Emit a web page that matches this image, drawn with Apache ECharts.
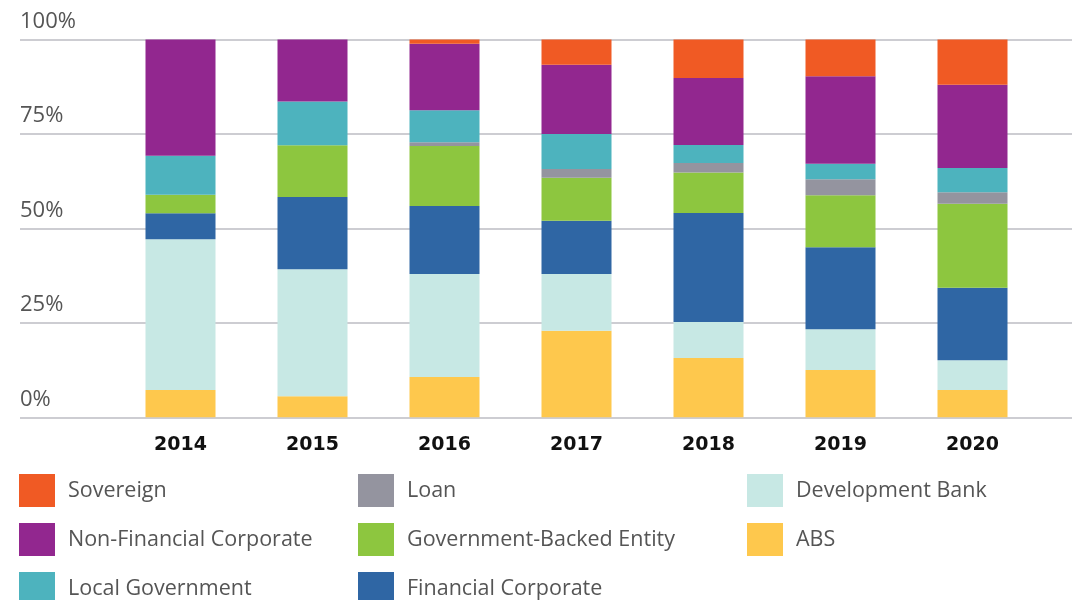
<!DOCTYPE html>
<html>
<head>
<meta charset="utf-8">
<script src="https://cdn.jsdelivr.net/npm/echarts@6/dist/echarts.min.js"></script>
<style>
  html, body { margin: 0; padding: 0; background: #fff; }
  #chart { width: 1081px; height: 600px; }
</style>
</head>
<body>
<div id="chart"></div>
<script>
// years on the x axis
var years = ['2014', '2015', '2016', '2017', '2018', '2019', '2020'];
var yTicks = [0, 25, 50, 75, 100];

// share of issuance by type, % (bottom of the stack first)
var abs = [7.2, 5.6, 10.7, 22.9, 15.7, 12.5, 7.2];
var developmentBank = [39.9, 33.6, 27.2, 15.0, 9.5, 10.8, 7.9];
var financialCorporate = [6.9, 19.1, 18.0, 14.1, 28.9, 21.7, 19.2];
var govBackedEntity = [4.9, 13.7, 15.9, 11.4, 10.7, 13.8, 22.2];
var loan = [0, 0, 1.0, 2.3, 2.5, 4.2, 3.1];
var localGovernment = [10.3, 11.6, 8.5, 9.3, 4.8, 4.1, 6.4];
var nonFinancialCorporate = [30.8, 16.4, 17.6, 18.3, 17.7, 23.2, 22.0];
var sovereign = [0, 0, 1.1, 6.7, 10.2, 9.7, 12.0];

var chart = echarts.init(document.getElementById('chart'));

function bar(name, data, color) {
  return {
    name: name,
    type: 'bar',
    stack: 'total',
    xAxisIndex: 1,
    yAxisIndex: 1,
    barWidth: 70,
    data: data,
    itemStyle: { color: color },
  };
}

var legendText = {
  fontFamily: 'Open Sans',
  fontSize: 21.5,
  color: '#555',
  padding: [0, 0, 0, 8],
};

function legendCol(left, names) {
  return {
    orient: 'vertical',
    left: left,
    top: 474,
    height: 200, // keep all rows in one column, last one runs off the bottom
    padding: 0,
    itemWidth: 36,
    itemHeight: 33,
    itemGap: 16,
    icon: 'rect',
    selectedMode: false,
    textStyle: legendText,
    data: names,
  };
}

var option = {
  animation: false,
  grid: [
    // full-width grid, only for the gridlines and % labels
    { left: 20, right: 9, top: 39.5, bottom: 182.7 },
    // bars
    { left: 114.5, right: 42.5, top: 39.5, bottom: 182.7 },
  ],
  xAxis: [
    { gridIndex: 0, type: 'value', show: false, min: 0, max: 1 },
    {
      gridIndex: 1,
      type: 'category',
      data: years,
      axisLine: { show: false },
      axisTick: { show: false },
      axisLabel: {
        margin: 18,
        fontFamily: 'DejaVu Sans',
        fontWeight: 'bold',
        fontSize: 19,
        color: '#111',
      },
    },
  ],
  yAxis: [
    {
      gridIndex: 0,
      type: 'value',
      min: yTicks[0],
      max: yTicks[yTicks.length - 1],
      interval: 25,
      axisLine: { show: false },
      axisTick: { show: false },
      splitLine: {
        lineStyle: { color: '#cdcdd2', width: 2 },
      },
      axisLabel: {
        inside: true,
        margin: 0,
        verticalAlign: 'bottom',
        padding: [0, 0, 7, 0],
        fontFamily: 'Open Sans',
        fontSize: 22,
        color: '#555',
        formatter: '{value}%',
      },
    },
    { gridIndex: 1, type: 'value', min: 0, max: 100, show: false },
  ],
  legend: [
    legendCol(19, ['Sovereign', 'Non-Financial Corporate', 'Local Government']),
    legendCol(358, ['Loan', 'Government-Backed Entity', 'Financial Corporate']),
    legendCol(747, ['Development Bank', 'ABS']),
  ],
  series: [
    bar('ABS', abs, '#fec84d'),
    bar('Development Bank', developmentBank, '#c7e8e4'),
    bar('Financial Corporate', financialCorporate, '#2f66a4'),
    bar('Government-Backed Entity', govBackedEntity, '#8dc63f'),
    bar('Loan', loan, '#94949f'),
    bar('Local Government', localGovernment, '#4db3be'),
    bar('Non-Financial Corporate', nonFinancialCorporate, '#92278f'),
    bar('Sovereign', sovereign, '#f05a24'),
  ],
};

chart.setOption(option);
</script>
</body>
</html>
